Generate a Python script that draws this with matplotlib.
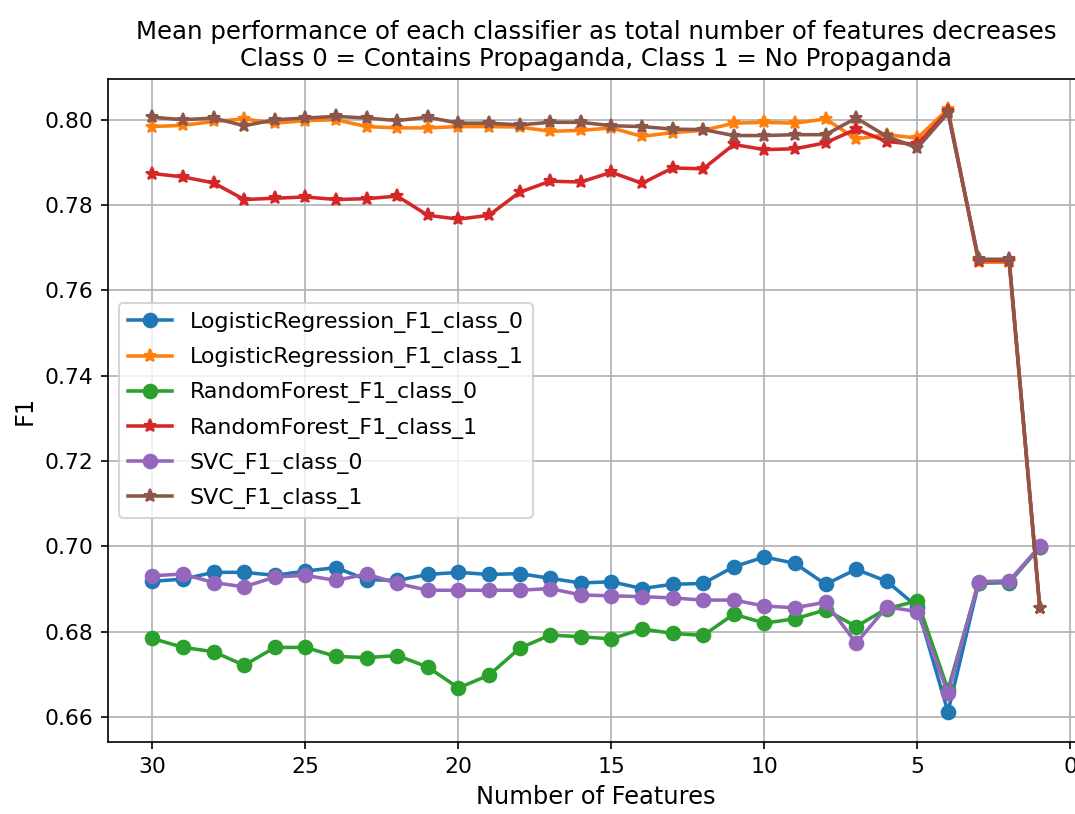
import matplotlib
matplotlib.use("Agg")
import matplotlib.pyplot as plt

# nombre de features (de 30 a 1)
n_features = list(range(30, 0, -1))

lr_class_0 = [0.6918, 0.6923, 0.6939, 0.6939, 0.6932, 0.6942, 0.6950, 0.6922, 0.6920, 0.6934,
              0.6939, 0.6934, 0.6936, 0.6925, 0.6914, 0.6917, 0.6901, 0.6911, 0.6913, 0.6952,
              0.6975, 0.6960, 0.6911, 0.6946, 0.6918, 0.6858, 0.6612, 0.6913, 0.6915, 0.6998]
lr_class_1 = [0.7984, 0.7987, 0.7996, 0.8002, 0.7992, 0.7998, 0.8000, 0.7984, 0.7981, 0.7981,
              0.7984, 0.7984, 0.7983, 0.7973, 0.7975, 0.7981, 0.7961, 0.7970, 0.7975, 0.7992,
              0.7994, 0.7992, 0.8002, 0.7955, 0.7965, 0.7957, 0.8025, 0.7666, 0.7666, 0.6855]
rf_class_0 = [0.6784, 0.6763, 0.6753, 0.6721, 0.6763, 0.6763, 0.6742, 0.6739, 0.6744, 0.6717,
              0.6668, 0.6698, 0.6761, 0.6792, 0.6788, 0.6783, 0.6806, 0.6796, 0.6791, 0.6841,
              0.6820, 0.6830, 0.6851, 0.6812, 0.6854, 0.6872, 0.6664, 0.6915, 0.6917, 0.6999]
rf_class_1 = [0.7874, 0.7866, 0.7852, 0.7813, 0.7816, 0.7819, 0.7813, 0.7815, 0.7821, 0.7776,
              0.7767, 0.7776, 0.7830, 0.7856, 0.7854, 0.7877, 0.7851, 0.7887, 0.7885, 0.7942,
              0.7930, 0.7932, 0.7946, 0.7978, 0.7949, 0.7942, 0.8020, 0.7670, 0.7670, 0.6856]
svc_class_0 = [0.6931, 0.6935, 0.6915, 0.6905, 0.6928, 0.6932, 0.6920, 0.6935, 0.6913, 0.6897,
               0.6897, 0.6897, 0.6897, 0.6901, 0.6886, 0.6884, 0.6882, 0.6879, 0.6874, 0.6874,
               0.6860, 0.6856, 0.6869, 0.6773, 0.6858, 0.6847, 0.6656, 0.6917, 0.6919, 0.7000]
svc_class_1 = [0.8006, 0.8000, 0.8004, 0.7986, 0.8000, 0.8004, 0.8008, 0.8004, 0.7998, 0.8006,
               0.7992, 0.7992, 0.7988, 0.7994, 0.7994, 0.7986, 0.7984, 0.7978, 0.7977, 0.7963,
               0.7963, 0.7965, 0.7965, 0.8004, 0.7961, 0.7934, 0.8016, 0.7673, 0.7673, 0.6856]

series = [
    ("LogisticRegression_F1_class_0", lr_class_0, "o"),
    ("LogisticRegression_F1_class_1", lr_class_1, "*"),
    ("RandomForest_F1_class_0", rf_class_0, "o"),
    ("RandomForest_F1_class_1", rf_class_1, "*"),
    ("SVC_F1_class_0", svc_class_0, "o"),
    ("SVC_F1_class_1", svc_class_1, "*"),
]

fig = plt.figure(figsize=(1075 / 150, 814 / 150), dpi=150)
ax = fig.add_axes([0.1005, 0.0885, 0.908, 0.8145])   # le bord droit sort un peu de l'image

for name, values, marker in series:
    ax.plot(n_features, values, marker=marker, label=name, lw=1.7, ms=6.5)

ax.invert_xaxis()
ax.set_title("Mean performance of each classifier as total number of features decreases\n"
             "Class 0 = Contains Propaganda, Class 1 = No Propaganda", fontsize=11.7)
ax.set_xlabel("Number of Features", fontsize=11.6)
ax.set_ylabel("F1", fontsize=11.6)
ax.tick_params(labelsize=10.5)
ax.grid(True)
ax.legend(loc="center left", fontsize=10.6, labelspacing=0.64)

fig.savefig("out.png", dpi=150)
plt.close()
